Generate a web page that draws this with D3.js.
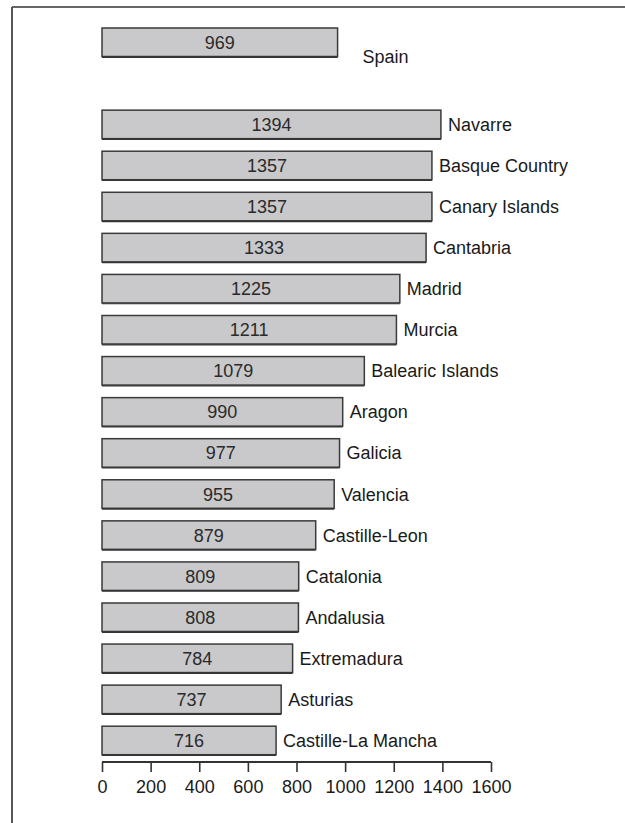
<!DOCTYPE html>
<html>
<head>
<meta charset="utf-8">
<script src="https://cdn.jsdelivr.net/npm/d3@7"></script>
<style>
  html, body { margin: 0; padding: 0; background: #fff; }
  svg { display: block; }
  text { font-family: "Liberation Sans", Arial, sans-serif; }
</style>
</head>
<body>
<svg id="chart" width="625" height="823"></svg>
<script>
// ---- data ----
const totalCategory = "Spain";
const regions = ["Navarre", "Basque Country", "Canary Islands", "Cantabria", "Madrid", "Murcia",
  "Balearic Islands", "Aragon", "Galicia", "Valencia", "Castille-Leon", "Catalonia",
  "Andalusia", "Extremadura", "Asturias", "Castille-La Mancha"];
const totalValue = 969;
const regionValues = [1394, 1357, 1357, 1333, 1225, 1211, 1079, 990, 977, 955, 879, 809, 808, 784, 737, 716];
const xTicks = [0, 200, 400, 600, 800, 1000, 1200, 1400, 1600];

// ---- layout ----
const W = 625, H = 823;
const svg = d3.select("#chart");

const rows = [{ name: totalCategory, value: totalValue, total: true }]
  .concat(regions.map((r, i) => ({ name: r, value: regionValues[i], total: false })));
const spacer = "__gap__";
const yDomain = [totalCategory, spacer].concat(regions);

const x = d3.scaleLinear().domain([0, 1600]).range([102, 491]);
const y = d3.scaleBand().domain(yDomain).range([28, 754.7]).paddingInner(0.306).paddingOuter(0);

// frame (top and left rules)
svg.append("line").attr("x1", 12).attr("x2", W).attr("y1", 7).attr("y2", 7)
  .attr("stroke", "#333").attr("stroke-width", 1.6);
svg.append("line").attr("x1", 12).attr("x2", 12).attr("y1", 7).attr("y2", H)
  .attr("stroke", "#444").attr("stroke-width", 1.8);

// bars
const g = svg.append("g");
const bar = g.selectAll("g.bar").data(rows).join("g").attr("class", "bar");

bar.append("rect")
  .attr("x", x(0))
  .attr("y", d => y(d.name))
  .attr("width", d => x(d.value) - x(0))
  .attr("height", y.bandwidth())
  .attr("fill", "#c9c9cb")
  .attr("stroke", "#3a3a3a")
  .attr("stroke-width", 1.5);

// bottom shadow line
bar.append("line")
  .attr("x1", x(0)).attr("x2", d => x(d.value))
  .attr("y1", d => y(d.name) + y.bandwidth() + 0.8)
  .attr("y2", d => y(d.name) + y.bandwidth() + 0.8)
  .attr("stroke", "#333").attr("stroke-width", 1.2);

// value labels inside bars
bar.append("text")
  .attr("x", d => (x(0) + x(d.value)) / 2)
  .attr("y", d => y(d.name) + y.bandwidth() / 2 + 6.5)
  .attr("text-anchor", "middle")
  .attr("font-size", 18)
  .attr("fill", "#2a2a2a")
  .text(d => d.value);

// category labels to the right
bar.append("text")
  .attr("x", d => x(d.value) + (d.total ? 25 : 7))
  .attr("y", d => y(d.name) + y.bandwidth() / 2 + 6.5 + (d.total ? 14 : 0))
  .attr("font-size", 18)
  .attr("fill", "#1a1a1a")
  .text(d => d.name);

// x axis
const axisY = 762;
const axis = d3.axisBottom(x).tickValues(xTicks).tickSize(10).tickPadding(8).tickFormat(d3.format("d"));
const ax = svg.append("g").attr("transform", `translate(0,${axisY})`).call(axis);
ax.select(".domain").attr("stroke", "#333").attr("stroke-width", 2).attr("d", `M${x(0)},0H${x(1600)}`);
ax.selectAll(".tick line").attr("stroke", "#333").attr("stroke-width", 1.6);
ax.selectAll(".tick text")
  .attr("font-family", "'Liberation Sans', Arial, sans-serif")
  .attr("font-size", 18)
  .attr("fill", "#1a1a1a");
</script>
</body>
</html>
